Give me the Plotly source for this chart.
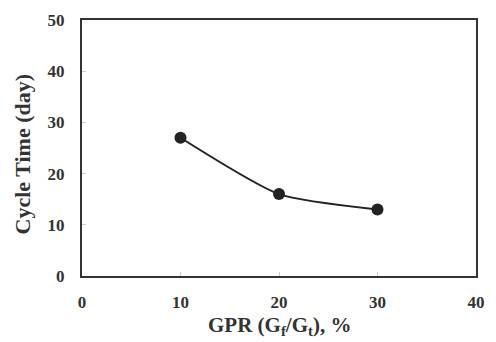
import plotly.graph_objects as go

gpr = [10, 20, 30]
cycle_time = [27, 16, 13]

fig = go.Figure()
fig.add_trace(go.Scatter(
    x=gpr, y=cycle_time, mode="lines+markers",
    line=dict(color="#222222", width=2, shape="spline", smoothing=0.6),
    marker=dict(color="#222222", size=12),
    showlegend=False,
))

font_family = "Liberation Serif, Times New Roman, serif"
tick_font = dict(size=17, family=font_family, color="#333333", weight="bold")
title_font = dict(size=22, family=font_family, color="#333333", weight="bold")
fig.update_layout(
    width=496, height=342,
    margin=dict(l=82, r=11, t=17, b=66),
    paper_bgcolor="white", plot_bgcolor="white",
    font=dict(family=font_family, color="#333333"),
)
fig.update_xaxes(
    range=[0, 40], tickvals=[0, 10, 20, 30, 40],
    showgrid=False, zeroline=False,
    showline=True, linecolor="#333333", linewidth=2, mirror=True,
    ticks="inside", ticklen=4, tickcolor="#cccccc",
    tickfont=tick_font, ticklabelstandoff=10,
)
fig.update_yaxes(
    range=[0, 50], tickvals=[0, 10, 20, 30, 40, 50],
    showgrid=False, zeroline=False,
    showline=True, linecolor="#333333", linewidth=2, mirror=True,
    ticks="inside", ticklen=4, tickcolor="#cccccc",
    tickfont=tick_font, ticklabelstandoff=12,
)
fig.add_annotation(
    text="GPR (G<sub>f</sub>/G<sub>t</sub>), %", xref="paper", yref="paper",
    x=0.5, y=0, xanchor="center", yanchor="middle", yshift=-50,
    showarrow=False, font=dict(size=21, family=font_family, color="#333333", weight="bold"),
)
fig.add_annotation(
    text="Cycle Time (day)", xref="paper", yref="paper",
    x=0, y=0.475, xanchor="center", yanchor="middle", xshift=-60,
    textangle=-90, showarrow=False, font=title_font,
)
fig.write_html("out.html")
